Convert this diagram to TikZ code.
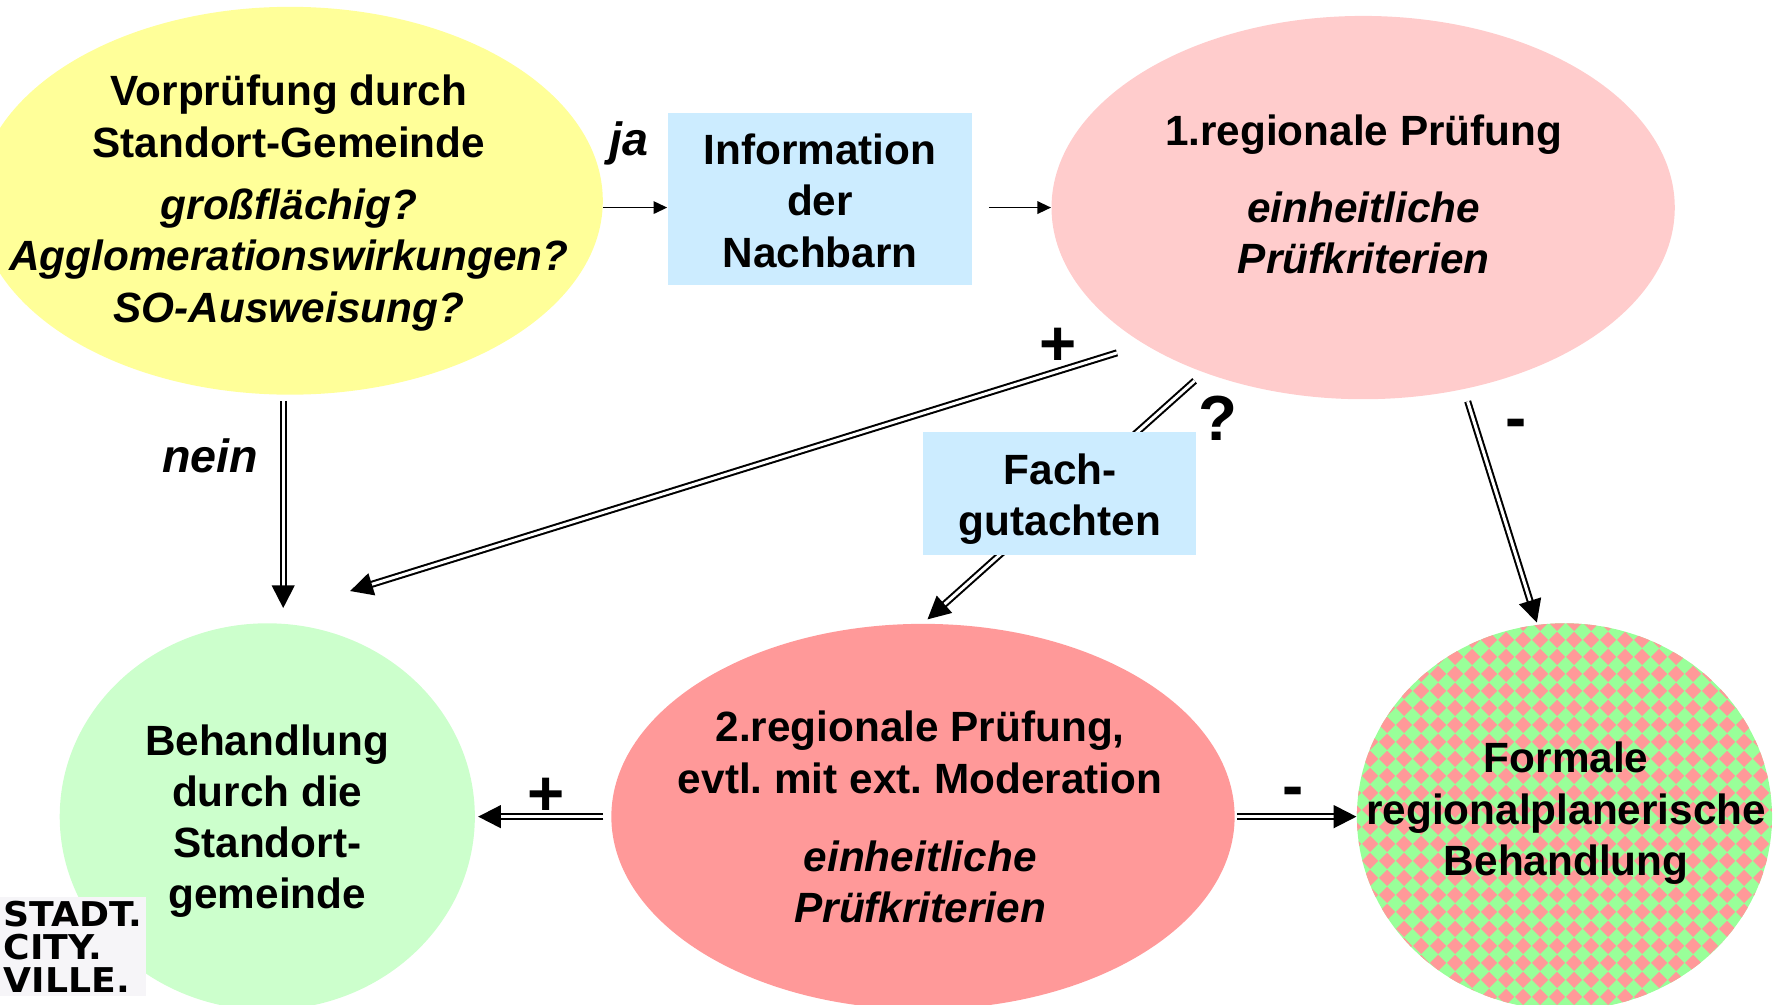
\documentclass[tikz,border=0pt]{standalone}
\usepackage{fontspec}
\setmainfont{Liberation Sans}
\newfontfamily\logofont[FakeStretch=1.06]{DejaVu Sans}
\usepackage{tikz}
\usetikzlibrary{arrows.meta}
\usetikzlibrary{patterns}
\usetikzlibrary{shapes}
\frenchspacing

\definecolor{vorYellow}{RGB}{255,255,153}
\definecolor{infoBlue}{RGB}{204,236,255}
\definecolor{prOneRose}{RGB}{255,204,204}
\definecolor{prTwoRed}{RGB}{255,153,153}
\definecolor{behGreen}{RGB}{204,255,204}
\definecolor{checkGreen}{RGB}{153,255,153}
\definecolor{checkPink}{RGB}{255,153,153}
\definecolor{logoGray}{RGB}{246,245,248}

\newcommand{\diagfont}{\fontsize{18.6}{22.5}\selectfont\bfseries}

\pgfdeclarepatternformonly{diamondcheck}{\pgfpointorigin}{\pgfpoint{7.3pt}{7.3pt}}{\pgfpoint{7.3pt}{7.3pt}}{%
  \pgfpathmoveto{\pgfpoint{3.65pt}{0pt}}%
  \pgfpathlineto{\pgfpoint{7.3pt}{3.65pt}}%
  \pgfpathlineto{\pgfpoint{3.65pt}{7.3pt}}%
  \pgfpathlineto{\pgfpoint{0pt}{3.65pt}}%
  \pgfpathclose
  \pgfusepath{fill}}

\begin{document}
\begin{tikzpicture}[x=0.5pt,y=0.5pt,yscale=-1,xscale=1,
  bubble/.style={ellipse, inner sep=0pt},
  infobox/.style={rectangle, fill=infoBlue, inner sep=0pt},
  txt/.style={inner sep=0pt, align=center, font=\diagfont},
  lbl/.style={inner sep=0pt, font=\fontsize{20.5}{24}\selectfont\bfseries\itshape},
  sym/.style={inner sep=0pt, font=\fontsize{28}{30}\selectfont\bfseries},
  arr/.style={line width=0.75pt, -{Triangle[length=6pt,width=5.5pt]}},
  dbl/.style={double, double distance=1.3pt, line width=0.9pt, -{Triangle[length=10pt,width=10pt]}}]
%set diagram size
\useasboundingbox (0,0) rectangle (1565,883.6);

%Shape: Ellipse
\node[bubble, fill=vorYellow, minimum width=275pt, minimum height=170.5pt] (vor) at (255,176.5) {};
% Text Node
\node[txt] (vortext) at (254,178.5) {Vorprüfung durch\\Standort-Gemeinde\\[5pt]\textit{großflächig?}\\\textit{Agglomerationswirkungen?}\\\textit{SO-Ausweisung?}};

%Shape: Rectangle
\node[infobox, minimum width=134pt, minimum height=76pt] (info) at (721,175) {};
% Text Node
\node[txt] (infotext) at (721,176.5) {Information\\der\\Nachbarn};

%Shape: Ellipse
\node[bubble, fill=prOneRose, minimum width=274pt, minimum height=168.5pt] (pr1) at (1198.5,182.5) {};
% Text Node
\node[txt] (pr1text) at (1199,171) {1.regionale Prüfung\\[11pt]\textit{einheitliche}\\\textit{Prüfkriterien}};

%Shape: Ellipse
\node[bubble, fill=behGreen, minimum width=182.5pt, minimum height=170pt] (beh) at (235,718) {};
% Text Node
\node[txt] (behtext) at (235,722) {Behandlung\\durch die\\Standort-\\gemeinde};

%Shape: Ellipse
\node[bubble, fill=prTwoRed, minimum width=274pt, minimum height=169.5pt] (pr2) at (811.5,718) {};
% Text Node
\node[txt] (pr2text) at (809,718.5) {2.regionale Prüfung,\\evtl. mit ext. Moderation\\[12pt]\textit{einheitliche}\\\textit{Prüfkriterien}};

%Shape: Ellipse
\node[bubble, preaction={fill=checkGreen}, pattern=diamondcheck, pattern color=checkPink, minimum width=182.5pt, minimum height=170pt] (form) at (1375.5,718) {};
% Text Node
\node[txt] (formtext) at (1377,715) {Formale\\regionalplanerische\\Behandlung};

%Straight Lines
\draw[arr] (vor.east |- pr1.west) -- (info.west |- pr1.west);
\draw[arr, shorten <=7pt] (info.east |- pr1.west) -- (pr1.west);
\draw[dbl, shorten <=2.5pt, shorten >=6.5pt] ([xshift=-3pt]vor.south) -- ([xshift=-3pt]vor.south |- beh.north);
\draw[dbl, shorten <=12.5pt, shorten >=49pt] (pr1.212) -- (beh.97);
\draw[dbl, shorten <=5.35pt, shorten >=2.65pt] (pr1.226.4) -- (pr2.north);
\draw[dbl, shorten <=5.5pt, shorten >=0.9pt] (pr1.299.6) -- (form.98.4);
\draw[dbl, shorten <=3.25pt, shorten >=1.25pt] (pr2.west) -- (beh.east);
\draw[dbl, shorten <=0.75pt] (pr2.east) -- (form.west);

%Shape: Rectangle
\node[infobox, minimum width=120pt, minimum height=54pt] (fach) at (931.5,434) {};
% Text Node
\node[txt] (fachtext) at (932,438.5) {Fach-\\gutachten};

% Text Node
\node[lbl] (jalabel) at (553,126) {ja};
% Text Node
\node[lbl] (neinlabel) at (185,401) {nein};
% Text Node
\node[sym] (plusup) at (930,305) {+};
% Text Node
\node[sym] (questup) at (1071,368) {?};
% Text Node
\node[sym] (minusup) at (1333,377.5) {-};
% Text Node
\node[sym] (pluslow) at (480,700.4) {+};
% Text Node
\node[sym] (minuslow) at (1137,701) {-};

% Text Node
\node[anchor=north west, fill=logoGray, inner xsep=1.5pt, inner ysep=1.5pt, align=left, font=\logofont\bfseries\fontsize{15}{14.65}\selectfont] (logo) at (0,788.5) {STADT.\\CITY.\\VILLE.};

\end{tikzpicture}
\end{document}
